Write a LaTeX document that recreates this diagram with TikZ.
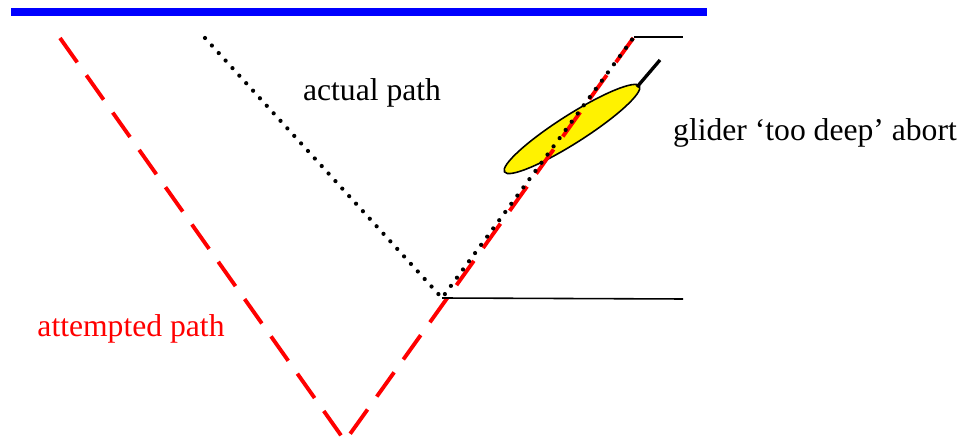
\documentclass[tikz,border=0pt]{standalone}
\usepackage{fontspec}
\setmainfont{Liberation Serif}
\usepackage{tikz}
\usetikzlibrary{positioning}

\tikzset{
  attempted/.style={red, line width=2.2pt, dash pattern=on 17pt off 9pt},
  actual/.style={black, line width=2.4pt, line cap=round, dash pattern=on 0pt off 5.8pt},
  marker/.style={black, line width=0.9pt},
  lbl/.style={font=\fontsize{18}{20}\selectfont, inner sep=0pt}
}

\begin{document}
\begin{tikzpicture}[x=0.02cm, y=-0.02cm]
    \useasboundingbox (0,0) rectangle (974,445);
    % ---- Surface ----
    \draw[blue, line width=4.6pt] (11,12) -- (707,12);
    % ---- Glider ----
    \coordinate (nose) at (637,87);
    \coordinate (tail) at (660,60);
    \fill[yellow, draw=black, line width=0.9pt, rotate around={32.5:(572,129)}]
      (572,129) ellipse (80 and 14);
    \draw[black, line width=1.9pt] (nose) -- (tail);
    % ---- Paths ----
    \coordinate (start) at (60,38);
    \coordinate (low) at (345,441);
    \coordinate (top) at (634,37);
    \coordinate (astart) at (205,38);
    \coordinate (turn) at (442,298);
    \draw[attempted] (start) -- (low) -- (top);
    \draw[actual] (astart) -- (turn) -- (top);
    % ---- Depth markers ----
    \coordinate (topend) at (683,37);
    \coordinate (turnend) at (683,299);
    \draw[marker] (top) -- (topend);
    \draw[marker] (turn) -- (turnend);
    % ---- Labels ----
    \node[lbl] (actuallbl) at (372,93) {actual path};
    \node[lbl, red] (attemptlbl) at (131,329) {attempted path};
    \node[lbl] (abortlbl) at (815,133) {glider `too deep' abort};
\end{tikzpicture}
\end{document}
